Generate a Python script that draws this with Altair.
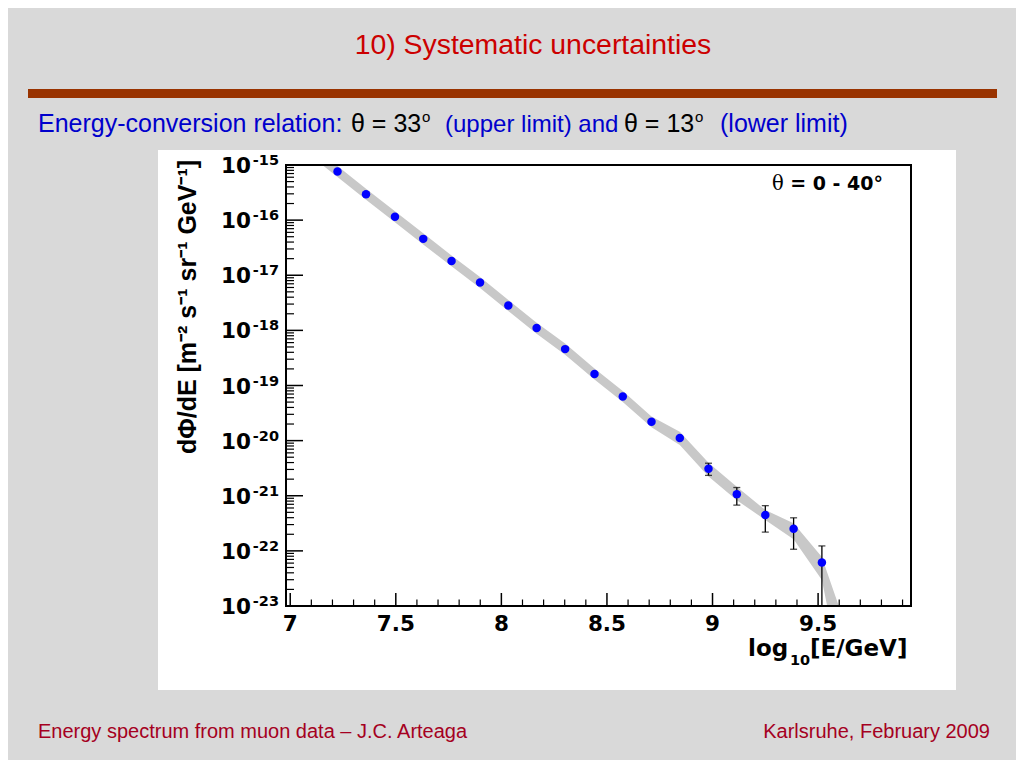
import altair as alt
import pandas as pd

# ---------------- data ----------------
energy = [7.224, 7.359, 7.496, 7.630, 7.764, 7.899, 8.033, 8.167, 8.302,
          8.441, 8.575, 8.711, 8.845, 8.981, 9.115, 9.250, 9.384, 9.518]
flux = [7.59e-16, 2.95e-16, 1.15e-16, 4.57e-17, 1.82e-17, 7.41e-18, 2.82e-18,
        1.10e-18, 4.57e-19, 1.62e-19, 6.31e-20, 2.19e-20, 1.12e-20, 3.09e-21,
        1.07e-21, 4.47e-22, 2.51e-22, 6.17e-23]

err_energy = [8.981, 9.115, 9.250, 9.384, 9.518]
err_hi = [3.89e-21, 1.41e-21, 6.61e-22, 3.98e-22, 1.23e-22]
err_lo = [2.34e-21, 6.76e-22, 2.19e-22, 1.07e-22, 1.0e-23]
err_lo_cap = [True, True, True, True, False]

band_energy = [7.09, 7.224, 7.359, 7.496, 7.630, 7.764, 7.899, 8.033, 8.167,
               8.302, 8.441, 8.575, 8.711, 8.845, 8.981, 9.115, 9.250, 9.384,
               9.518, 9.543, 9.598]
band_hi = [2.455e-15, 9.55e-16, 3.72e-16, 1.45e-16, 5.75e-17, 2.29e-17,
           9.33e-18, 3.55e-18, 1.38e-18, 5.75e-19, 2.04e-19, 7.94e-20,
           2.75e-20, 1.45e-20, 3.98e-21, 1.45e-21, 5.50e-22, 3.16e-22,
           7.76e-23, 4.07e-23, 1.0e-23]
band_lo = [1.549e-15, 6.03e-16, 2.34e-16, 9.12e-17, 3.63e-17, 1.45e-17,
           5.89e-18, 2.24e-18, 8.71e-19, 3.63e-19, 1.29e-19, 5.01e-20,
           1.74e-20, 8.32e-21, 2.24e-21, 8.32e-22, 3.63e-22, 1.62e-22,
           2.95e-23, 1.0e-23, 3.16e-24]

x_major = [7.0, 7.5, 8.0, 8.5, 9.0, 9.5]
x_labels = ["7", "7.5", "8", "8.5", "9", "9.5"]
x_minor = [7.1, 7.2, 7.3, 7.4, 7.6, 7.7, 7.8, 7.9, 8.1, 8.2, 8.3, 8.4,
           8.6, 8.7, 8.8, 8.9, 9.1, 9.2, 9.3, 9.4, 9.6, 9.7, 9.8, 9.9]
y_major = [1e-15, 1e-16, 1e-17, 1e-18, 1e-19, 1e-20, 1e-21, 1e-22, 1e-23]
y_exp = ["-15", "-16", "-17", "-18", "-19", "-20", "-21", "-22", "-23"]
y_minor = [m * 10.0 ** e for e in range(-23, -15) for m in range(2, 10)]

# ---------------- layout ----------------
W, H = 625, 441          # plot frame
X0, Y0 = 286, 165        # frame origin on the page
xs = alt.Scale(domain=[6.98, 9.94], nice=False, zero=False)
ys = alt.Scale(type="log", domain=[1e-23, 1e-15], nice=False)
AXF = "DejaVu Sans"


def one(**kw):
    return alt.Data(values=[kw])


def txt(text, px, py, size, color="black", font="Liberation Sans",
        weight="normal", align="left", angle=0):
    return alt.Chart(one(t=text)).mark_text(
        font=font, fontSize=size, color=color, fontWeight=weight,
        align=align, baseline="alphabetic", angle=angle
    ).encode(x=alt.value(px - X0), y=alt.value(py - Y0), text="t:N")


def box(px1, py1, px2, py2, color):
    return alt.Chart(one(a=1)).mark_rect(color=color).encode(
        x=alt.value(px1 - X0), x2=alt.value(px2 - X0),
        y=alt.value(py1 - Y0), y2=alt.value(py2 - Y0))


panel = box(158, 150, 956, 690, "white")
bar_line = box(28, 89, 997, 98, "#993300")

band_df = pd.DataFrame({"e": band_energy, "hi": band_hi, "lo": band_lo})
band = alt.Chart(band_df).mark_area(color="#c8c8c8", clip=True).encode(
    x=alt.X("e:Q", scale=xs, axis=None),
    y=alt.Y("hi:Q", scale=ys, axis=None),
    y2="lo:Q")

err_df = pd.DataFrame({"e": err_energy, "hi": err_hi, "lo": err_lo})
err = alt.Chart(err_df).mark_rule(color="black", strokeWidth=1.3).encode(
    x=alt.X("e:Q", scale=xs, axis=None),
    y=alt.Y("hi:Q", scale=ys, axis=None),
    y2="lo:Q")
cap_rows = [{"e": e, "v": h} for e, h in zip(err_energy, err_hi)] + \
           [{"e": e, "v": l} for e, l, c in zip(err_energy, err_lo, err_lo_cap) if c]
caps = alt.Chart(pd.DataFrame(cap_rows)).mark_tick(
    orient="horizontal", size=7, thickness=1.3, color="black").encode(
    x=alt.X("e:Q", scale=xs, axis=None),
    y=alt.Y("v:Q", scale=ys, axis=None))

pts_df = pd.DataFrame({"e": energy, "f": flux})
pts = alt.Chart(pts_df).mark_circle(size=72, color="#0000ff", opacity=1).encode(
    x=alt.X("e:Q", scale=xs, axis=None),
    y=alt.Y("f:Q", scale=ys, axis=None))

frame = alt.Chart(one(a=1)).mark_rect(
    fillOpacity=0, stroke="black", strokeWidth=2).encode(
    x=alt.value(0), x2=alt.value(W), y=alt.value(0), y2=alt.value(H))

ymaj_df = pd.DataFrame({"v": y_major, "b": ["10"] * len(y_major), "x": y_exp})
ymaj = alt.Chart(ymaj_df).mark_rule(color="black", strokeWidth=1.5).encode(
    y=alt.Y("v:Q", scale=ys, axis=None), x=alt.value(0), x2=alt.value(17))
ymin = alt.Chart(pd.DataFrame({"v": y_minor})).mark_rule(
    color="black", strokeWidth=1.2).encode(
    y=alt.Y("v:Q", scale=ys, axis=None), x=alt.value(0), x2=alt.value(8))
ylab_b = alt.Chart(ymaj_df).mark_text(
    font=AXF, fontWeight="bold", fontSize=21.5, align="right",
    baseline="alphabetic", dy=8).encode(
    y=alt.Y("v:Q", scale=ys, axis=None), x=alt.value(-35), text="b:N")
ylab_e = alt.Chart(ymaj_df).mark_text(
    font=AXF, fontWeight="bold", fontSize=14.5, align="right",
    baseline="alphabetic", dy=0).encode(
    y=alt.Y("v:Q", scale=ys, axis=None), x=alt.value(-7), text="x:N")

xmaj_df = pd.DataFrame({"v": x_major, "t": x_labels})
xmaj = alt.Chart(xmaj_df).mark_rule(color="black", strokeWidth=1.5).encode(
    x=alt.X("v:Q", scale=xs, axis=None), y=alt.value(H), y2=alt.value(H - 13))
xmin = alt.Chart(pd.DataFrame({"v": x_minor})).mark_rule(
    color="black", strokeWidth=1.2).encode(
    x=alt.X("v:Q", scale=xs, axis=None), y=alt.value(H), y2=alt.value(H - 6.5))
xlab = alt.Chart(xmaj_df).mark_text(
    font=AXF, fontWeight="bold", fontSize=21.5, align="center",
    baseline="alphabetic").encode(
    x=alt.X("v:Q", scale=xs, axis=None), y=alt.value(631 - Y0), text="t:N")

texts = [
    txt("10) Systematic uncertainties", 533, 54, 28.4, "#cc0000", align="center"),
    txt("Energy-conversion relation:", 38, 132, 25, "#0000cc"),
    txt("\u03b8 = 33", 351, 132, 25, "black"),
    txt("o", 422, 122, 15, "black"),
    txt("(upper limit) and", 445, 132, 24, "#0000cc"),
    txt("\u03b8 = 13", 624, 132, 25, "black"),
    txt("o", 695, 122, 15, "black"),
    txt("(lower limit)", 720, 132, 25, "#0000cc"),
    txt("Energy spectrum from muon data \u2013 J.C. Arteaga", 38, 738, 20, "#a50021"),
    txt("Karlsruhe,  February 2009", 990, 738, 20, "#a50021", align="right"),
    # axis titles
    txt("log", 748, 656, 23, font=AXF, weight="bold"),
    txt("10", 790, 665, 14.5, font=AXF, weight="bold"),
    txt("[E/GeV]", 810, 656, 23, font=AXF, weight="bold"),
    txt("d\u03a6/dE [m\u207b\u00b2 s\u207b\u00b9 sr\u207b\u00b9 GeV\u207b\u00b9]",
        196, 307, 25, font="Liberation Sans", weight="bold", align="center",
        angle=270),
    # annotation
    txt("\u03b8", 772, 190, 19.5, font="DejaVu Serif"),
    txt("= 0 - 40\u00b0", 883, 190, 19, font=AXF, weight="bold", align="right"),
]

chart = alt.layer(
    panel, bar_line, band, err, caps, pts, ymin, ymaj, xmin, xmaj, frame,
    ylab_b, ylab_e, xlab, *texts
).properties(
    width=W, height=H,
    padding={"left": X0 - 8, "top": Y0 - 8,
             "right": 1016 - X0 - W, "bottom": 760 - Y0 - H},
    autosize=alt.AutoSizeParams(type="none"),
).configure(background="#d9d9d9").configure_view(stroke=None)

chart.save("out.html", embed_options={"renderer": "svg", "actions": False})
